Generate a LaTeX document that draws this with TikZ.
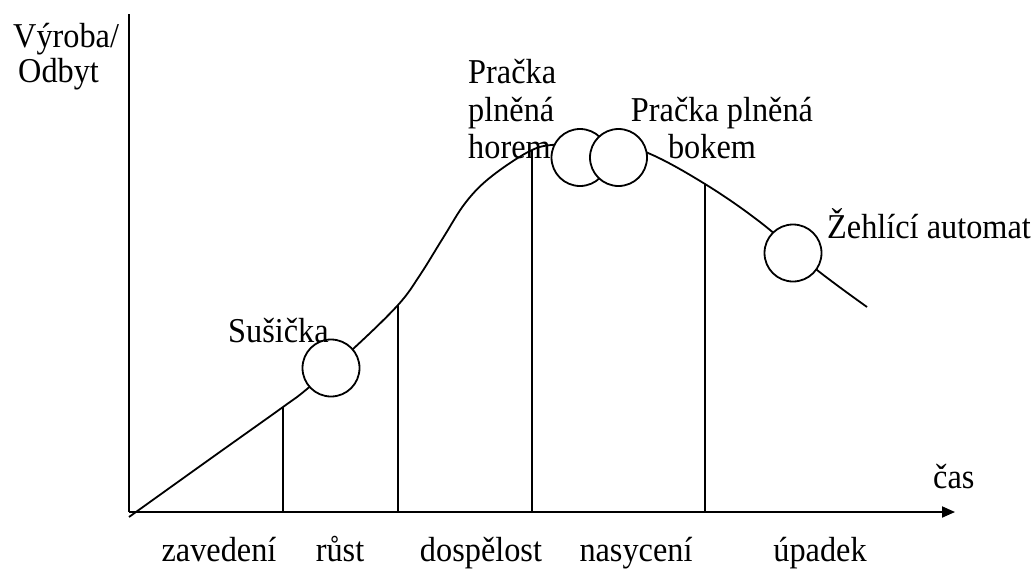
\documentclass[tikz,border=0pt]{standalone}
\usepackage{fontspec}
\setmainfont{Liberation Serif}
\usetikzlibrary{arrows.meta}
\newcommand{\tall}[1]{\scalebox{1}[1.08]{#1}}
\tikzset{
  lbl/.style={inner sep=0pt, font=\fontsize{32.3}{38}\selectfont},
  axis/.style={line width=1.9pt},
  curve/.style={line width=1.8pt},
  divider/.style={line width=1.8pt},
  prod/.style={circle, draw, fill=white, line width=1.8pt, minimum size=57pt, inner sep=0pt}
}
\begin{document}
\begin{tikzpicture}[x=1pt,y=-1pt]
\useasboundingbox (0,0) rectangle (1032,568);
% axes
\coordinate (O) at (129,512);
\coordinate (ytop) at (129,14);
\coordinate (xend) at (955,512);
\draw[axis] (ytop) -- (O);
\draw[axis,-{Triangle[length=13pt,width=11pt]}] (O) -- (xend);
% curve points
\coordinate (s) at (129,517);
\coordinate (p1) at (283,407);
\coordinate (p2) at (398,305);
\coordinate (p3) at (532,150);
\coordinate (p4) at (705,184);
\coordinate (e) at (867,307);
\draw[curve] plot[smooth, tension=0.6] coordinates {
  (s) (210,459) (p1) (307,389) (353,349) (p2) (420,275) (443,238)
  (466,202) (492,176) (p3) (560,144) (600,140) (648,153) (p4)
  (760,222) (817,270) (e)};
% dividers
\coordinate (b1) at (283,512);
\coordinate (b2) at (398,512);
\coordinate (b3) at (532,512);
\coordinate (b4) at (705,512);
\draw[divider] (p1) -- (b1);
\draw[divider] (p2) -- (b2);
\draw[divider] (p3) -- (b3);
\draw[divider] (p4) -- (b4);
% product circles
\node[prod] (susicka) at (331,368) {};
\node[prod] (horem) at (580,157.5) {};
\node[prod] (bokem) at (618.5,157.5) {};
\node[prod] (zehl) at (793,253) {};
% labels
\node[lbl,anchor=base west] (yl1) at (13,47) {\tall{Výroba/}};
\node[lbl,anchor=base west] (yl2) at (18,82) {\tall{Odbyt}};
\node[lbl,anchor=base west] (xl) at (933,488) {\tall{čas}};
\node[lbl,anchor=base west] (ls) at (228,342) {\tall{Sušička}};
\node[lbl,anchor=base west] (lh1) at (468,83) {\tall{Pračka}};
\node[lbl,anchor=base west] (lh2) at (468,121) {\tall{plněná}};
\node[lbl,anchor=base west] (lh3) at (468,158) {\tall{horem}};
\node[lbl,anchor=base] (lb1) at (722,121) {\tall{Pračka plněná}};
\node[lbl,anchor=base] (lb2) at (712,158) {\tall{bokem}};
\node[lbl,anchor=base west] (lz) at (827,238) {\tall{Žehlící automat}};
\node[lbl,anchor=base] (ph1) at (219,561) {\tall{zavedení}};
\node[lbl,anchor=base] (ph2) at (340,561) {\tall{růst}};
\node[lbl,anchor=base] (ph3) at (481,561) {\tall{dospělost}};
\node[lbl,anchor=base] (ph4) at (636,561) {\tall{nasycení}};
\node[lbl,anchor=base] (ph5) at (820,561) {\tall{úpadek}};
\end{tikzpicture}
\end{document}
